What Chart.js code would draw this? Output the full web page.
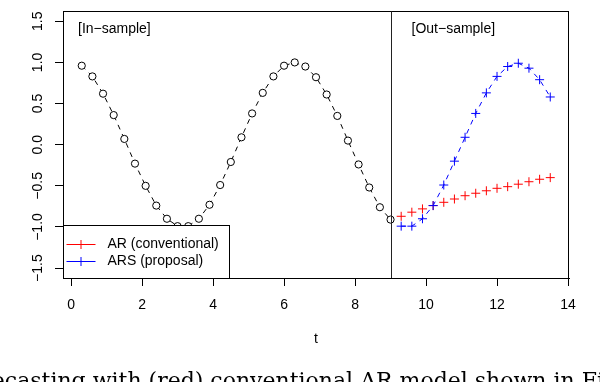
<!DOCTYPE html>
<html>
<head>
<meta charset="utf-8">
<script src="https://cdn.jsdelivr.net/npm/chart.js@4.4.0/dist/chart.umd.min.js"></script>
<style>
  html, body { margin: 0; padding: 0; background: #fff; }
  body { width: 600px; height: 382px; overflow: hidden; position: relative; }
  #wrap { position: absolute; left: 0; top: 0; width: 600px; height: 382px; }
  #caption {
    position: absolute; left: -46px; top: 370px; white-space: nowrap;
    font-family: "DejaVu Serif", "Liberation Serif", serif; font-size: 22px; line-height: 22px; color: #000;
  }
</style>
</head>
<body>
<div id="wrap"><canvas id="chart"></canvas></div>
<div id="caption">Forecasting with (red) conventional AR model shown in Fig. 2</div>
<script>
// in-sample series (black circles)
const tIn = [0.3, 0.6, 0.9, 1.2, 1.5, 1.8, 2.1, 2.4, 2.7, 3.0, 3.3, 3.6, 3.9, 4.2, 4.5,
             4.8, 5.1, 5.4, 5.7, 6.0, 6.3, 6.6, 6.9, 7.2, 7.5, 7.8, 8.1, 8.4, 8.7, 9.0];
const yIn = [0.96, 0.83, 0.62, 0.36, 0.07, -0.23, -0.50, -0.74, -0.90, -0.99, -0.99, -0.90, -0.73, -0.49, -0.21,
             0.09, 0.38, 0.63, 0.83, 0.96, 1.00, 0.95, 0.82, 0.61, 0.35, 0.05, -0.24, -0.52, -0.76, -0.91];

// out-sample forecasts
const tOut = [9.3, 9.6, 9.9, 10.2, 10.5, 10.8, 11.1, 11.4, 11.7, 12.0, 12.3, 12.6, 12.9, 13.2, 13.5];
const arOut = [-0.87, -0.82, -0.78, -0.74, -0.70, -0.66, -0.62, -0.59, -0.56, -0.53, -0.51, -0.48, -0.45, -0.42, -0.40];
const arsOut = [-0.99, -0.99, -0.90, -0.74, -0.49, -0.20, 0.09, 0.38, 0.63, 0.83, 0.95, 0.99, 0.93, 0.79, 0.58];

const seriesNames = ['AR (conventional)', 'ARS (proposal)'];
const seriesColors = ['#ff0000', '#0000ff'];

// axes
const xTicks = [0, 2, 4, 6, 8, 10, 12, 14];
const xTickLabels = ['0', '2', '4', '6', '8', '10', '12', '14'];
const yTicks = [-1.5, -1.0, -0.5, 0.0, 0.5, 1.0, 1.5];
const yTickLabels = ['\u22121.5', '\u22121.0', '\u22120.5', '0.0', '0.5', '1.0', '1.5'];
const splitT = 9;

const FONT = '"Liberation Sans", Arial, sans-serif';
Chart.defaults.font.family = FONT;
Chart.defaults.font.size = 14;
Chart.defaults.color = '#000';

function pts(xs, ys) { return xs.map((x, i) => ({ x: x, y: ys[i] })); }

// frame, split line, region labels, legend
const decorations = {
  id: 'decorations',
  afterDatasetsDraw(chart) {
    const ctx = chart.ctx;
    const a = chart.chartArea;
    const xs = chart.scales.x;
    ctx.save();
    ctx.strokeStyle = '#000';
    ctx.lineWidth = 1;
    ctx.strokeRect(Math.round(a.left) + 0.5, Math.round(a.top) + 0.5,
                   Math.round(a.right - a.left) - 1, Math.round(a.bottom - a.top));

    // in/out split
    const sx = Math.round(xs.getPixelForValue(splitT)) + 0.5;
    ctx.strokeStyle = '#222';
    ctx.beginPath();
    ctx.moveTo(sx, a.top);
    ctx.lineTo(sx, a.bottom);
    ctx.stroke();

    ctx.fillStyle = '#000';
    ctx.font = '14px ' + FONT;
    ctx.textBaseline = 'middle';
    ctx.textAlign = 'left';
    ctx.fillText('[In\u2212sample]', a.left + 15, a.top + 18);
    ctx.fillText('[Out\u2212sample]', sx + 20, a.top + 18);

    // legend, bottom-left inside the plot
    const lx = Math.round(a.left) + 0.5, lw = 166, lh = 53;
    const ly = Math.round(a.bottom) - lh + 0.5;
    ctx.fillStyle = '#fff';
    ctx.fillRect(lx, ly, lw, lh);
    ctx.strokeStyle = '#000';
    ctx.strokeRect(lx, ly, lw, lh);
    seriesNames.forEach((name, i) => {
      const yy = Math.round(ly + 18 + i * 17) + 0.5;
      ctx.strokeStyle = seriesColors[i];
      ctx.beginPath();
      ctx.moveTo(lx + 3, yy); ctx.lineTo(lx + 32, yy);
      ctx.moveTo(lx + 17.5, yy - 4.5); ctx.lineTo(lx + 17.5, yy + 4.5);
      ctx.stroke();
      ctx.fillStyle = '#000';
      ctx.fillText(name, lx + 44, yy);
    });
    ctx.restore();
  }
};

new Chart(document.getElementById('chart'), {
  type: 'scatter',
  data: {
    datasets: [
      {
        label: 'in-sample',
        data: pts(tIn, yIn),
        showLine: true,
        borderColor: '#000',
        borderWidth: 1,
        borderDash: [5, 5],
        pointStyle: 'circle',
        pointRadius: 3.6,
        pointBorderWidth: 1,
        pointBackgroundColor: '#fff',
        pointBorderColor: '#000'
      },
      {
        label: seriesNames[1],
        data: pts(tOut, arsOut),
        showLine: true,
        borderColor: seriesColors[1],
        borderWidth: 1,
        borderDash: [5, 5],
        pointStyle: 'cross',
        pointRadius: 4.5,
        pointBorderWidth: 1,
        pointBorderColor: seriesColors[1]
      },
      {
        label: seriesNames[0],
        data: pts(tOut, arOut),
        showLine: false,
        borderColor: seriesColors[0],
        borderWidth: 1,
        pointStyle: 'cross',
        pointRadius: 4.5,
        pointBorderWidth: 1,
        pointBorderColor: seriesColors[0]
      }
    ]
  },
  options: {
    responsive: true,
    maintainAspectRatio: false,
    animation: false,
    devicePixelRatio: 1,
    layout: { padding: { left: 0, top: 1, right: 31, bottom: 30 } },
    plugins: { legend: { display: false }, tooltip: { enabled: false } },
    elements: { line: { tension: 0 } },
    scales: {
      x: {
        type: 'linear',
        min: -0.228,
        max: 14.028,
        afterBuildTicks: s => { s.ticks = xTicks.map(v => ({ value: v })); },
        afterFit: s => { s.height = 74; },
        ticks: {
          autoSkip: false,
          maxRotation: 0,
          padding: 11,
          callback: (v, i) => xTickLabels[i]
        },
        grid: { drawOnChartArea: false, tickLength: 8, tickColor: '#000' },
        border: { color: '#000' },
        title: { display: true, text: 't', padding: { top: 0, bottom: 4 } }
      },
      y: {
        type: 'linear',
        min: -1.62,
        max: 1.62,
        afterBuildTicks: s => { s.ticks = yTicks.map(v => ({ value: v })); },
        afterFit: s => { s.width = 63; },
        ticks: {
          autoSkip: false,
          minRotation: 90,
          maxRotation: 90,
          crossAlign: 'center',
          padding: 3,
          callback: (v, i) => yTickLabels[i]
        },
        grid: { drawOnChartArea: false, tickLength: 8, tickColor: '#000' },
        border: { color: '#000' }
      }
    }
  },
  plugins: [decorations]
});
</script>
</body>
</html>
